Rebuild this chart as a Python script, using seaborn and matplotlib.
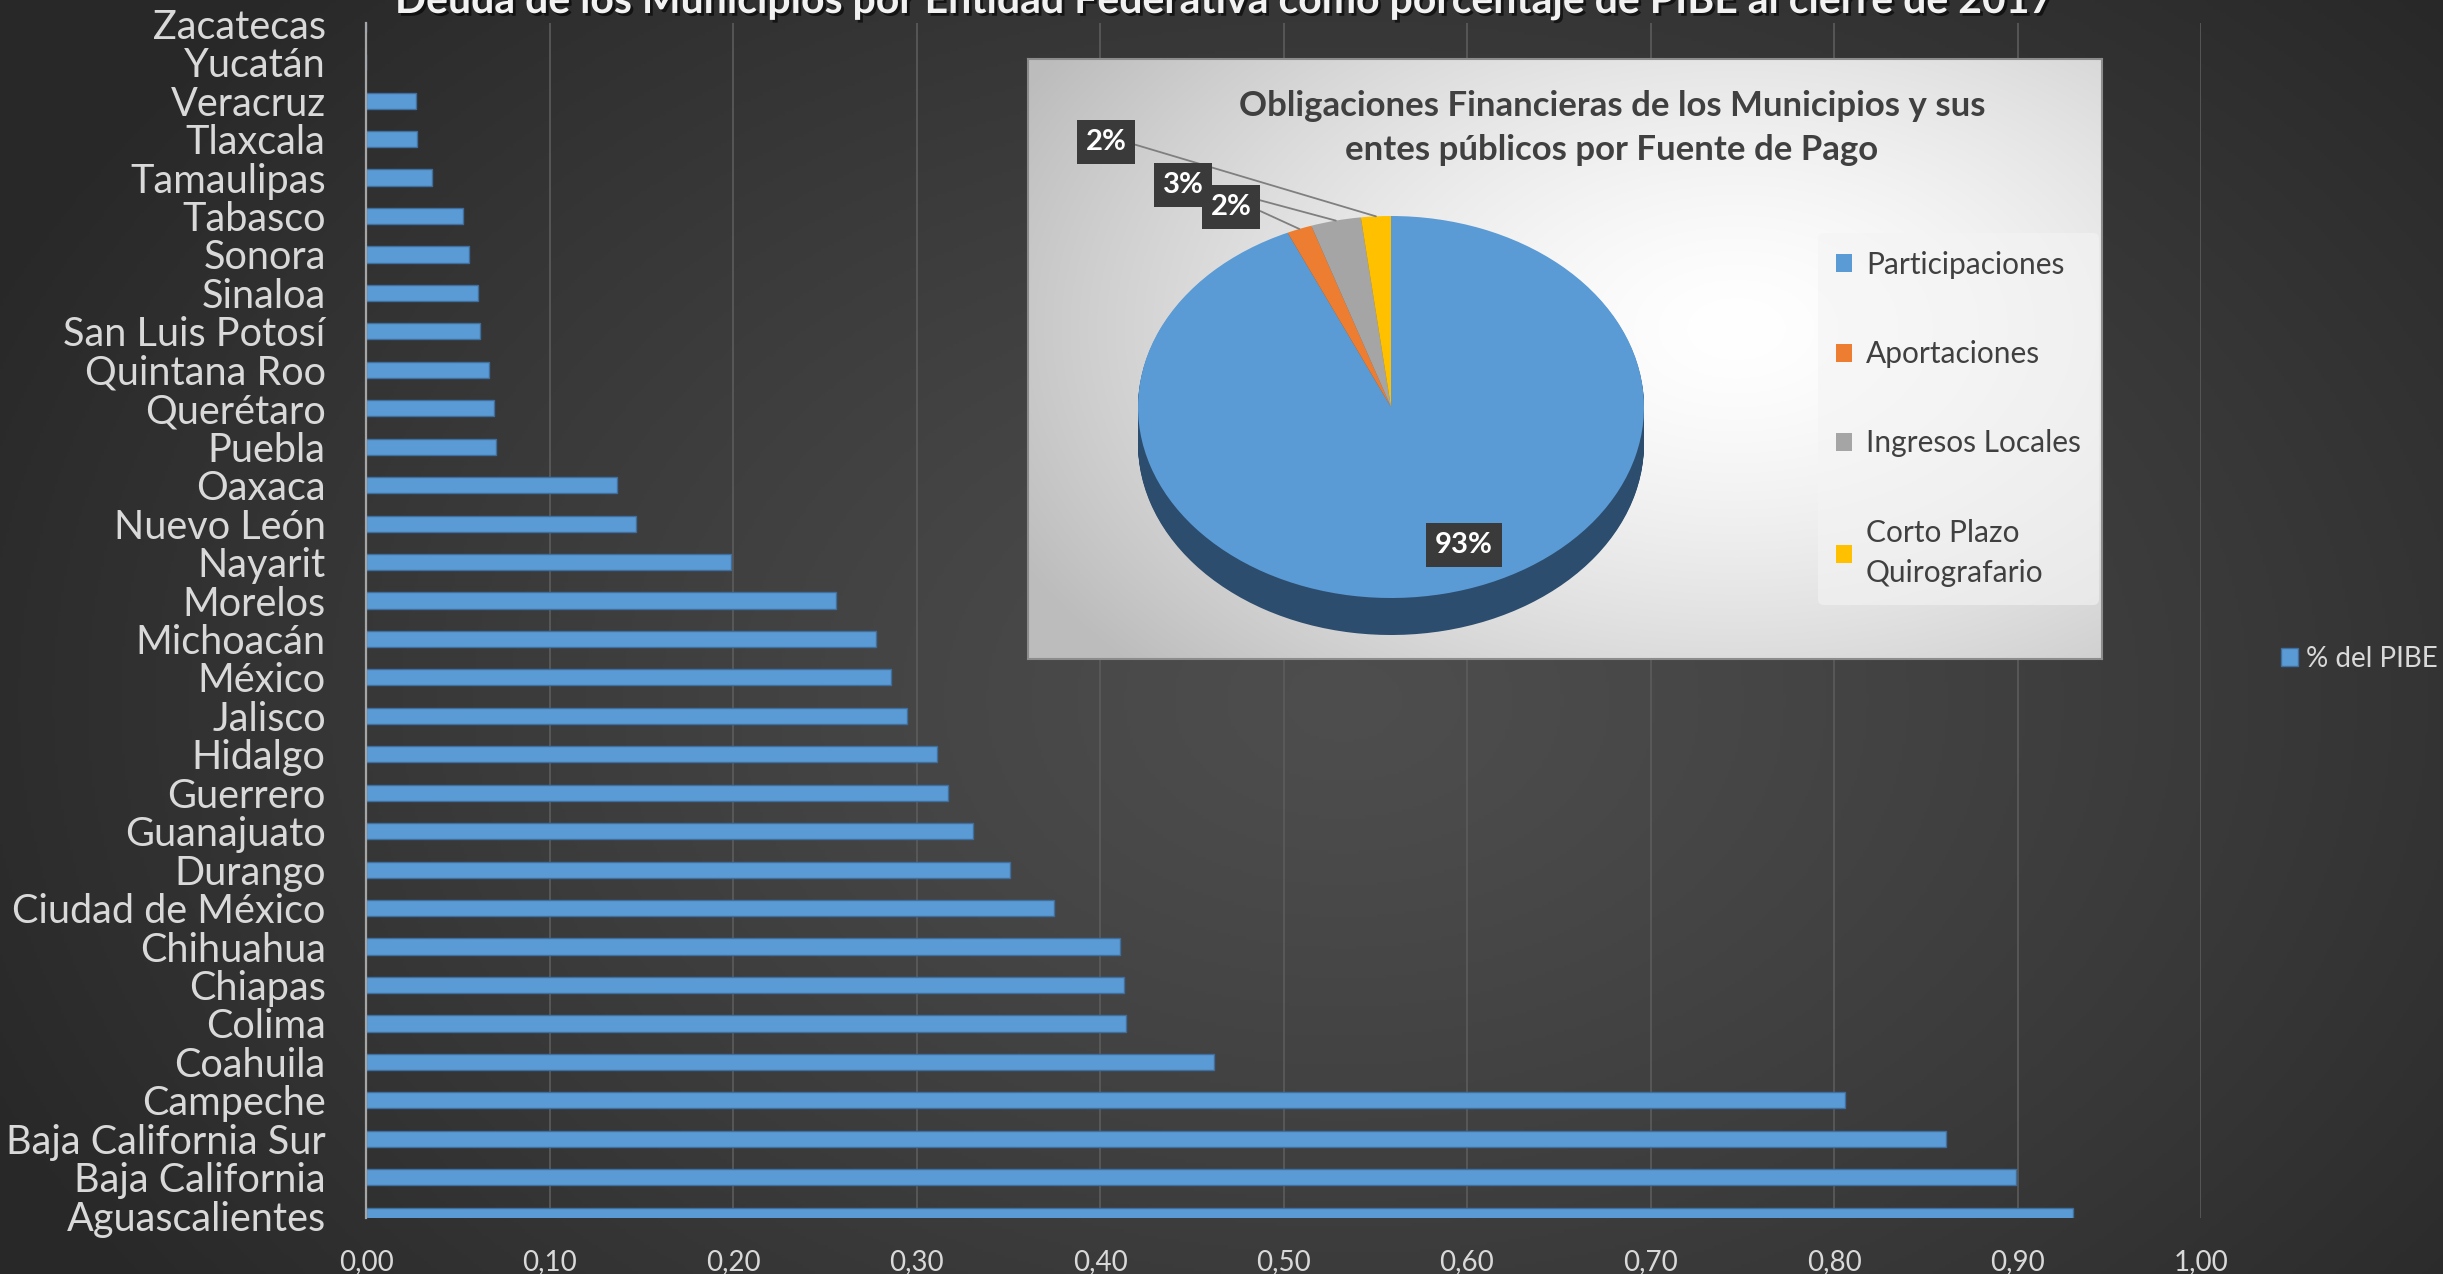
import numpy as np
import pandas as pd
import matplotlib
matplotlib.use("Agg")
import matplotlib.pyplot as plt
import seaborn as sns
from matplotlib import patheffects as pe

# ---------------- data ----------------
estados = ["Zacatecas", "Yucatán", "Veracruz", "Tlaxcala", "Tamaulipas", "Tabasco",
           "Sonora", "Sinaloa", "San Luis Potosí", "Quintana Roo", "Querétaro", "Puebla",
           "Oaxaca", "Nuevo León", "Nayarit", "Morelos", "Michoacán", "México", "Jalisco",
           "Hidalgo", "Guerrero", "Guanajuato", "Durango", "Ciudad de México", "Chihuahua",
           "Chiapas", "Colima", "Coahuila", "Campeche", "Baja California Sur",
           "Baja California", "Aguascalientes"]
pct_pibe = [0.0, 0.0, 0.027, 0.028, 0.036, 0.053, 0.056, 0.061, 0.062, 0.067, 0.070,
            0.071, 0.137, 0.147, 0.199, 0.256, 0.278, 0.286, 0.295, 0.311, 0.317, 0.331,
            0.351, 0.375, 0.411, 0.413, 0.414, 0.462, 0.806, 0.861, 0.899, 0.930]
x_ticks = [0.0, 0.1, 0.2, 0.3, 0.4, 0.5, 0.6, 0.7, 0.8, 0.9, 1.0]
x_tick_labels = ["0,00", "0,10", "0,20", "0,30", "0,40", "0,50", "0,60", "0,70",
                 "0,80", "0,90", "1,00"]
serie_label = "% del PIBE"
titulo = "Deuda de los Municipios por Entidad Federativa como porcentaje de PIBE al cierre de 2017"

fuentes = ["Participaciones", "Aportaciones", "Ingresos Locales", "Corto Plazo\nQuirografario"]
fuente_vals = [93.3, 1.6, 3.2, 1.9]
fuente_colors = ["#5b9bd5", "#ed7d31", "#a5a5a5", "#ffc000"]
fuente_side_colors = ["#2c4d6e", "#8a4a1f", "#666666", "#a07800"]
titulo_pie = "Obligaciones Financieras de los Municipios y sus\nentes públicos por Fuente de Pago"

# ---------------- style ----------------
plt.rcParams["font.family"] = ["Lato", "DejaVu Sans"]
W_PX, H_PX = 2443, 1274
fig = plt.figure(figsize=(W_PX / 100, H_PX / 100), dpi=100)

def fx(px):
    return px / W_PX

def fy(py):
    return 1 - py / H_PX

# background gradient
bg = fig.add_axes([0, 0, 1, 1], zorder=-10)
yy, xx = np.mgrid[0:1:400j, 0:1:800j]
r = np.sqrt(((xx - 0.55) / 0.60) ** 2 + ((yy - 0.55) / 0.80) ** 2)
v = 0.305 - 0.145 * np.clip(r, 0, 1) ** 1.2
bg.imshow(np.dstack([v, v, v]), aspect="auto", extent=[0, 1, 0, 1], origin="upper")
bg.set_axis_off()

# ---------------- main bar chart ----------------
ax = fig.add_axes([fx(366), fy(1218), fx(2201) - fx(366), fy(23) - fy(1218)], zorder=1)
ax.set_facecolor("none")
df = pd.DataFrame({"estado": estados, "pct": pct_pibe})
sns.barplot(data=df, x="pct", y="estado", orient="h", color="#5b9bd5", width=0.42,
            edgecolor="#3f6f9f", linewidth=1.0, ax=ax, label=serie_label, saturation=1)
if ax.get_legend() is not None:
    ax.get_legend().remove()
ax.set_xlim(0, 1.0)
ax.set_ylim(31.06, -0.02)
ax.set_xticks(x_ticks)
ax.set_xticklabels(x_tick_labels)
ax.set_xlabel("")
ax.set_ylabel("")
ax.grid(axis="x", color="#5c5c5c", linewidth=1.2, zorder=0)
ax.grid(axis="y", visible=False)
ax.set_axisbelow(True)
for s in ["top", "right", "bottom"]:
    ax.spines[s].set_visible(False)
ax.spines["left"].set_color("#a6a6a6")
ax.spines["left"].set_linewidth(1.6)
ax.tick_params(axis="y", length=0, pad=29, labelsize=28.5, labelcolor="#d9d9d9")
ax.tick_params(axis="x", length=0, pad=22, labelsize=20, labelcolor="#d9d9d9")

# series legend
h, l = ax.get_legend_handles_labels()
fig.legend(h[:1], l[:1], loc="center left", bbox_to_anchor=(fx(2270), fy(659)),
           frameon=False, fontsize=20, labelcolor="#d9d9d9", handlelength=0.6,
           handleheight=0.6, handletextpad=0.3, borderaxespad=0)

# title
fig.text(fx(1225), fy(13), titulo, ha="center", va="baseline", fontsize=29.5,
         fontweight="bold", color="#f2f2f2",
         path_effects=[pe.withSimplePatchShadow(offset=(2, -2), shadow_rgbFace="black", alpha=0.6)])

# ---------------- inset panel ----------------
pan = fig.add_axes([fx(1028), fy(659), fx(2102) - fx(1028), fy(59) - fy(659)], zorder=2)
yy, xx = np.mgrid[0:1:300j, 0:1:500j]
r = np.sqrt(((xx - 0.66) / 0.75) ** 2 + ((yy - 0.45) / 0.85) ** 2)
v = 1.0 - 0.26 * np.clip(r, 0, 1) ** 1.5
pan.imshow(np.dstack([v, v, v]), aspect="auto", extent=[0, 1, 0, 1], origin="upper")
pan.set_xlim(0, 1)
pan.set_ylim(0, 1)
pan.set_xticks([])
pan.set_yticks([])
for s in pan.spines.values():
    s.set_color("#8c8c8c")
    s.set_linewidth(1.5)

# pie axes: unit circle -> ellipse rx=253 px, ry=191 px centred at (1391, 407)
cx, cy, rx, ry = 1391, 407, 253, 191
L = 1.6
pax = fig.add_axes([fx(cx - L * rx), fy(cy + L * ry), fx(2 * L * rx), 2 * L * ry / H_PX], zorder=3)
pax.set_facecolor("none")
depth = 37 / ry
nstep = 40
for k in range(nstep, 0, -1):
    pax.pie(fuente_vals, colors=fuente_side_colors, startangle=90, counterclock=False,
            center=(0, -depth * k / nstep), wedgeprops=dict(linewidth=0))
wedges, texts, autotexts = pax.pie(fuente_vals, colors=fuente_colors, startangle=90,
                                   counterclock=False, autopct="%1.0f%%",
                                   wedgeprops=dict(linewidth=0))
pax.set_aspect("auto")
pax.set_xlim(-L, L)
pax.set_ylim(-L, L)
pax.set_axis_off()

box = dict(boxstyle="square,pad=0.3", facecolor="#3a3a3a", edgecolor="none")
label_pos = {0: (0.289, -0.723), 1: (-0.632, 1.047), 2: (-0.822, 1.162), 3: (-1.126, 1.387)}
for i, (w, t) in enumerate(zip(wedges, autotexts)):
    txt = t.get_text()
    t.set_visible(False)
    if i == 0:
        pax.text(*label_pos[i], txt, ha="center", va="center", fontsize=21,
                 fontweight="bold", color="white", bbox=box, zorder=10)
    else:
        ang = np.deg2rad((w.theta1 + w.theta2) / 2)
        pax.annotate(txt, xy=(np.cos(ang), np.sin(ang)), xytext=label_pos[i],
                     ha="center", va="center", fontsize=21, fontweight="bold",
                     color="white", bbox=box, zorder=10 - i,
                     arrowprops=dict(arrowstyle="-", color="#7f7f7f", lw=1.3,
                                     shrinkA=0, shrinkB=0, relpos=(1, 0.5)))

leg = fig.legend(wedges, fuentes, loc="upper left", bbox_to_anchor=(fx(1818), fy(233)),
                 borderaxespad=0, frameon=True, facecolor="#f4f4f4", edgecolor="none",
                 framealpha=0.6, fontsize=21.5, labelcolor="#404040", handlelength=0.55,
                 handleheight=0.55, handletextpad=0.45, labelspacing=2.05, borderpad=0.6)
for t in leg.get_texts():
    t.set_linespacing(1.55)
leg.set_zorder(5)

fig.text(fx(1612), fy(128), titulo_pie, ha="center", va="center", fontsize=25,
         fontweight="bold", color="#404040", linespacing=1.5, zorder=6)

fig.savefig("out.png", dpi=100)
